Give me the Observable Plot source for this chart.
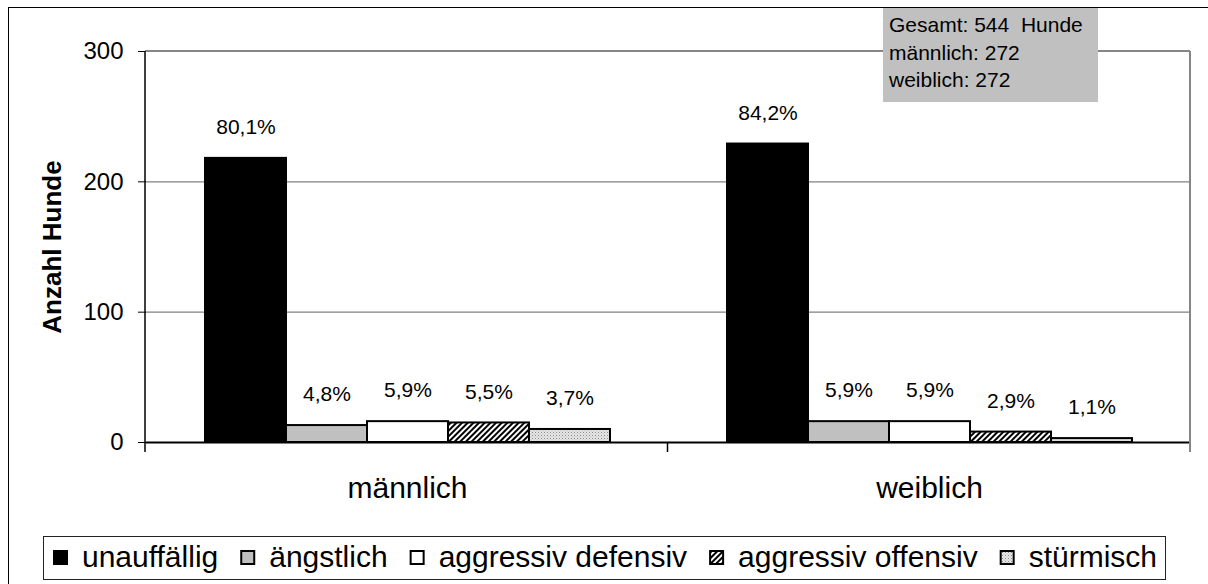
<!DOCTYPE html>
<html><head><meta charset="utf-8">
<script src="https://cdn.jsdelivr.net/npm/d3@7"></script>
<script src="https://cdn.jsdelivr.net/npm/@observablehq/plot@0.6"></script>
<style>
body{margin:0;background:#fff;}
#wrap{width:1208px;height:584px;overflow:hidden;}
</style></head><body><div id="wrap"></div>
<script>
// ---- data ----
const groups = ["männlich", "weiblich"];
const categories = ["unauffällig", "ängstlich", "aggressiv defensiv", "aggressiv offensiv", "stürmisch"];
const maleCounts = [218, 13, 16, 15, 10];
const femaleCounts = [229, 16, 16, 8, 3];
const malePct = ["80,1%", "4,8%", "5,9%", "5,5%", "3,7%"];
const femalePct = ["84,2%", "5,9%", "5,9%", "2,9%", "1,1%"];
const yTicks = [0, 100, 200, 300];
const yTitle = "Anzahl Hunde";
const infoLines = ["Gesamt: 544  Hunde", "männlich: 272", "weiblich: 272"];

// ---- styles ----
const fillOf = {
  "unauffällig": "#000000",
  "ängstlich": "#c0c0c0",
  "aggressiv defensiv": "#ffffff",
  "aggressiv offensiv": "url(#hatch)",
  "stürmisch": "url(#dots)"
};
const FONT = '"Liberation Sans", Arial, sans-serif';

const rows = [];
groups.forEach((g, gi) => {
  const counts = gi === 0 ? maleCounts : femaleCounts;
  const pcts = gi === 0 ? malePct : femalePct;
  categories.forEach((c, ci) => rows.push({group: g, cat: c, value: counts[ci], label: pcts[ci]}));
});

const W = 1208, H = 584, mL = 145, mR = 18, mT = 51, mB = 142;

const chart = Plot.plot({
  width: W, height: H,
  marginLeft: mL, marginRight: mR, marginTop: mT, marginBottom: mB,
  style: {fontFamily: FONT, fontSize: "24px", color: "#000", background: "#fff", overflow: "visible"},
  fx: {domain: groups, padding: 0, axis: null},
  x: {domain: categories, paddingInner: 0, paddingOuter: 0.72, axis: null},
  y: {domain: [0, 300], ticks: yTicks, tickSize: 8, tickPadding: 15, label: null, tickFormat: d => String(d)},
  color: {type: "identity"},
  marks: [
    Plot.ruleY(yTicks.filter(t => t > 0 && t < 300), {stroke: "#808080", strokeWidth: 1.2}),
    Plot.barY(rows, {fx: "group", x: "cat", y: "value", fill: d => fillOf[d.cat], stroke: "#000", strokeWidth: 2, inset: 0}),
    Plot.ruleY([0], {stroke: "#000", strokeWidth: 2}),
    Plot.text(rows, {fx: "group", x: "cat", y: "value", text: "label", dy: -31, fontSize: 21, fill: "#000"}),
    Plot.text(groups, {fx: d => d, text: d => d, frameAnchor: "bottom", lineAnchor: "middle", dy: 46, fontSize: 30, fill: "#000"})
  ]
});

document.getElementById("wrap").appendChild(chart);
const svg = d3.select(chart);

// patterns
const defs = svg.insert("defs", ":first-child");
const hatch = defs.append("pattern").attr("id", "hatch").attr("patternUnits", "userSpaceOnUse")
  .attr("width", 4).attr("height", 4).attr("patternTransform", "rotate(45)");
hatch.append("rect").attr("width", 4).attr("height", 4).attr("fill", "#fff");
hatch.append("rect").attr("x", 0).attr("y", 0).attr("width", 2).attr("height", 4).attr("fill", "#000");
const dots = defs.append("pattern").attr("id", "dots").attr("patternUnits", "userSpaceOnUse")
  .attr("width", 3).attr("height", 3);
dots.append("rect").attr("width", 3).attr("height", 3).attr("fill", "#e6e6e6");
dots.append("rect").attr("x", 0).attr("y", 0).attr("width", 1).attr("height", 1).attr("fill", "#8c8c8c");
dots.append("rect").attr("x", 1.5).attr("y", 1.5).attr("width", 1).attr("height", 1).attr("fill", "#b0b0b0");

// frame lines & axis lines
const x0 = mL, x1 = W - mR, yTop = mT, yBot = H - mB;
const xMid = (x0 + x1) / 2;
const deco = svg.append("g");
deco.append("line").attr("x1", x0).attr("x2", x1).attr("y1", yTop).attr("y2", yTop).attr("stroke", "#868686").attr("stroke-width", 2);
deco.append("line").attr("x1", x1).attr("x2", x1).attr("y1", yTop).attr("y2", yBot + 10).attr("stroke", "#868686").attr("stroke-width", 2);
deco.append("line").attr("x1", x0).attr("x2", x0).attr("y1", yTop).attr("y2", yBot + 10).attr("stroke", "#000").attr("stroke-width", 1.5);
deco.append("line").attr("x1", xMid).attr("x2", xMid).attr("y1", yBot).attr("y2", yBot + 10).attr("stroke", "#000").attr("stroke-width", 1.5);

// outer border
svg.append("rect").attr("x", 8.5).attr("y", 7.5).attr("width", 1300).attr("height", 700)
  .attr("fill", "none").attr("stroke", "#000").attr("stroke-width", 1);

// y title
svg.append("text").attr("transform", "translate(61,247) rotate(-90)")
  .attr("text-anchor", "middle").attr("font-family", FONT).attr("font-size", 26).attr("font-weight", "bold")
  .attr("fill", "#000").text(yTitle);

// info box
const info = svg.append("g");
info.append("rect").attr("x", 883).attr("y", 8).attr("width", 215).attr("height", 94).attr("fill", "#c0c0c0");
infoLines.forEach((t, i) => {
  info.append("text").attr("x", 889).attr("y", 32 + i * 27.5).attr("text-anchor", "start")
    .attr("font-family", FONT).attr("font-size", 21)
    .attr("fill", "#000").style("white-space", "pre").text(t);
});

// legend
const leg = svg.append("g");
leg.append("rect").attr("x", 43.5).attr("y", 536.5).attr("width", 1122).attr("height", 43)
  .attr("fill", "#fff").attr("stroke", "#222").attr("stroke-width", 1);
let lx = 53;
categories.forEach(c => {
  leg.append("rect").attr("x", lx + 1).attr("y", 551).attr("width", 13).attr("height", 13)
    .attr("fill", fillOf[c]).attr("stroke", "#000").attr("stroke-width", 2);
  const t = leg.append("text").attr("x", lx + 15 + 14).attr("y", 567).attr("text-anchor", "start")
    .attr("font-family", FONT).attr("font-size", 30).attr("fill", "#000").text(c);
  const w = t.node().getComputedTextLength();
  lx += 15 + 14 + w + 22;
});
</script>
</body></html>
